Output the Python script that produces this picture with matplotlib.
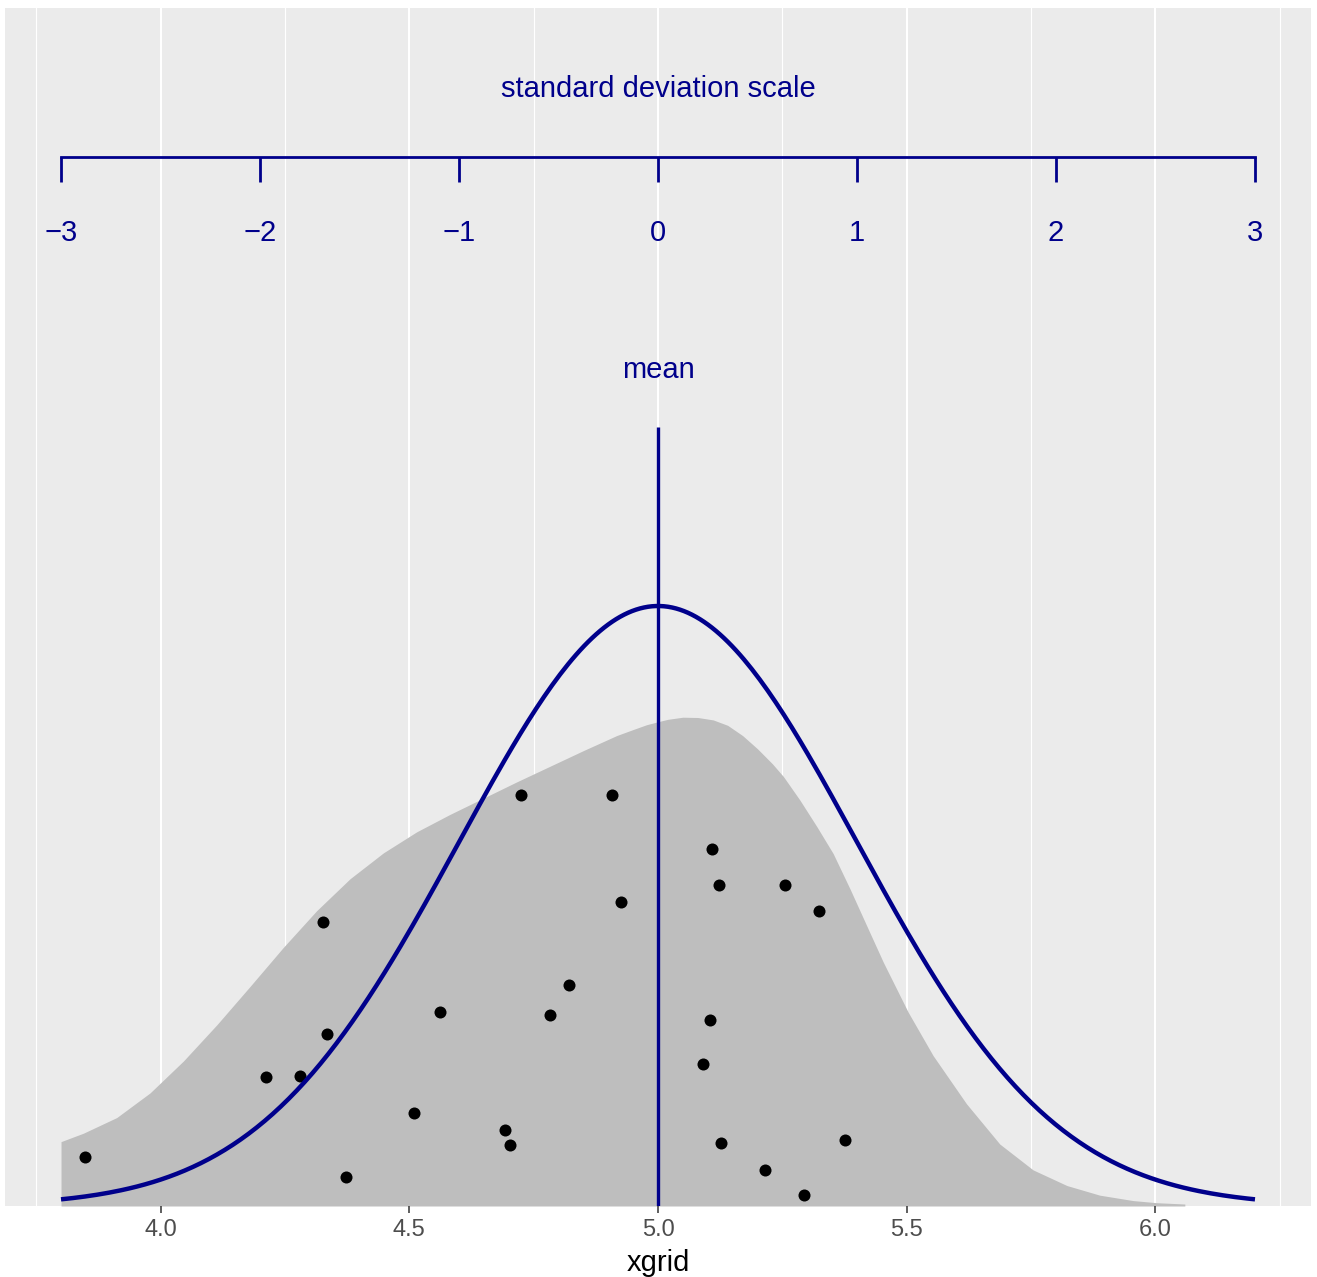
## Importing the python libraries
import numpy as np
import matplotlib
matplotlib.use("Agg")
import matplotlib.pyplot as plt

plt.rcParams['font.family'] = ['Liberation Sans', 'DejaVu Sans']

## Data
mean_value = 5.0
sd_value = 0.4
sd_ticks = [-3, -2, -1, 0, 1, 2, 3]
sd_labels = ['\u22123', '\u22122', '\u22121', '0', '1', '2', '3']

# observed points (x value, jittered height)
point_x = [3.849, 4.212, 4.280, 4.327, 4.335, 4.372, 4.510, 4.562, 4.692, 4.703,
           4.724, 4.782, 4.822, 4.907, 4.925, 5.090, 5.104, 5.108, 5.123, 5.127,
           5.216, 5.256, 5.294, 5.324, 5.376]
point_y = [0.082, 0.214, 0.216, 0.472, 0.286, 0.048, 0.155, 0.323, 0.126, 0.101,
           0.683, 0.318, 0.367, 0.684, 0.506, 0.236, 0.309, 0.594, 0.534, 0.104,
           0.060, 0.533, 0.018, 0.490, 0.109]

# outline of the grey density area
dens_x = [3.800, 3.845, 3.912, 3.979, 4.046, 4.113, 4.180, 4.247, 4.314, 4.381,
          4.448, 4.515, 4.582, 4.649, 4.716, 4.783, 4.850, 4.917, 4.950, 4.977,
          5.000, 5.020, 5.050, 5.080, 5.111, 5.140, 5.170, 5.200, 5.230, 5.252,
          5.285, 5.319, 5.352, 5.386, 5.420, 5.453, 5.503, 5.553, 5.620, 5.687,
          5.754, 5.822, 5.888, 5.955, 6.002, 6.059]
dens_y = [0.107, 0.121, 0.147, 0.188, 0.241, 0.301, 0.365, 0.430, 0.491, 0.544,
          0.587, 0.622, 0.651, 0.678, 0.705, 0.731, 0.757, 0.782, 0.792, 0.800,
          0.805, 0.809, 0.8125, 0.812, 0.808, 0.799, 0.782, 0.760, 0.735, 0.714,
          0.675, 0.631, 0.586, 0.527, 0.465, 0.405, 0.322, 0.250, 0.170, 0.103,
          0.060, 0.034, 0.018, 0.009, 0.0055, 0.0033]

x_ticks = [4.0, 4.5, 5.0, 5.5, 6.0]
x_tick_labels = ['4.0', '4.5', '5.0', '5.5', '6.0']
x_minor = [3.75, 4.25, 4.75, 5.25, 5.75, 6.25]

navy = '#00008B'

## Figure and panel
fig = plt.figure(figsize=(13.17, 12.77), dpi=100)
W, H = 1317, 1277
ax = fig.add_axes([5 / W, 1 - 1206 / H, 1306 / W, 1198 / H])
ax.set_facecolor('#EBEBEB')
ax.set_xlim(3.6874, 6.3126)
ax.set_ylim(0, 1.9914)

## grid (vertical only)
for v in x_minor:
    ax.axvline(v, color='white', lw=0.8, zorder=0)
for v in x_ticks:
    ax.axvline(v, color='white', lw=1.5, zorder=0)

## density area and points
ax.fill_between(dens_x, 0, dens_y, color='#BEBEBE', lw=0, zorder=1)
ax.scatter(point_x, point_y, s=75, color='black', lw=0, zorder=3)

## normal curve
xgrid = np.linspace(mean_value - 3 * sd_value, mean_value + 3 * sd_value, 300)
normal_y = np.exp(-0.5 * ((xgrid - mean_value) / sd_value) ** 2) / (sd_value * np.sqrt(2 * np.pi))
ax.plot(xgrid, normal_y, color=navy, lw=3.2, zorder=4, solid_capstyle='butt')

## mean line and label
ax.plot([mean_value, mean_value], [0, 1.295], color=navy, lw=2.4, zorder=4,
        solid_capstyle='butt')
ax.text(mean_value, 1.390, 'mean', color=navy, fontsize=21, ha='center', va='center')

## standard deviation scale
sd_pos = [mean_value + t * sd_value for t in sd_ticks]
ax.plot([sd_pos[0], sd_pos[-1]], [1.7437, 1.7437], color=navy, lw=2.0,
        solid_capstyle='projecting')
for p, lab in zip(sd_pos, sd_labels):
    ax.plot([p, p], [1.702, 1.7437], color=navy, lw=2.0, solid_capstyle='butt')
    ax.text(p, 1.617, lab, color=navy, fontsize=21, ha='center', va='center')
ax.text(mean_value, 1.857, 'standard deviation scale', color=navy, fontsize=21,
        ha='center', va='center')

## axes styling
for s in ax.spines.values():
    s.set_visible(False)
ax.set_yticks([])
ax.set_xticks(x_ticks)
ax.set_xticklabels(x_tick_labels)
ax.tick_params(axis='x', length=5, width=1.1, color='#333333', labelcolor='#4D4D4D',
               labelsize=17, pad=4.5)
ax.set_xlabel('xgrid', fontsize=21, labelpad=5.5)

fig.savefig('out.png', dpi=100)
